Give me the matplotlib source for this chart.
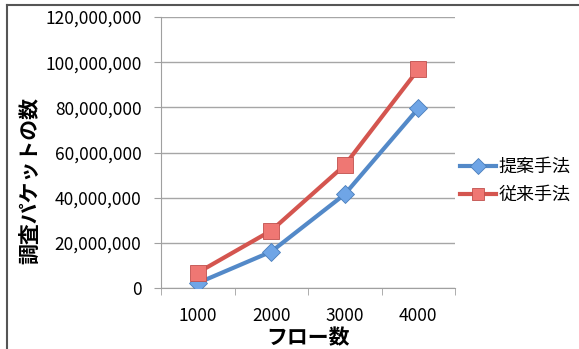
import matplotlib
matplotlib.use("Agg")
import matplotlib.pyplot as plt
from matplotlib.lines import Line2D
from matplotlib.ticker import FuncFormatter

plt.rcParams['font.family'] = ['Noto Sans CJK JP', 'DejaVu Sans']

flows = ['1000', '2000', '3000', '4000']
proposed = [2200000, 16100000, 41500000, 79500000]
conventional = [6800000, 25400000, 54400000, 96800000]
series_names = ['提案手法', '従来手法']

blue, blue_fill = '#5389C8', '#6FA5E6'
red, red_fill = '#D4554F', '#EF7773'

fig = plt.figure(figsize=(5.79, 3.49), dpi=100)
W, H = 579, 349
ax = fig.add_axes([161 / W, 1 - 288 / H, (455 - 161) / W, (288 - 17) / H])

x = [0, 1, 2, 3]
ax.plot(x, proposed, color=blue, lw=3.0, marker='D', ms=9,
        mfc=blue_fill, mec='#4A7EBB', mew=0.6, solid_capstyle='round', zorder=3)
ax.plot(x, conventional, color=red, lw=3.0, marker='s', ms=11,
        mfc=red_fill, mec='#C0504D', mew=0.6, solid_capstyle='round', zorder=3)

ax.set_xlim(-0.5, 3.5)
ax.set_ylim(0, 120000000)
ax.set_yticks(range(0, 120000001, 20000000))
ax.yaxis.set_major_formatter(FuncFormatter(lambda v, p: f'{int(v):,}'))
ax.set_xticks(x)
ax.set_xticklabels(flows)
ax.set_xticks([-0.5, 0.5, 1.5, 2.5, 3.5], minor=True)
ax.tick_params(axis='x', which='major', length=0, pad=14, labelsize=12.5)
ax.tick_params(axis='x', which='minor', length=5, color='#A0A0A0', direction='out')
ax.tick_params(axis='y', length=5, color='#A0A0A0', labelsize=12.5, pad=9)
ax.grid(axis='y', color='#A6A6A6', lw=1)
ax.set_axisbelow(True)
for s in ['top', 'right']:
    ax.spines[s].set_visible(False)
for s in ['left', 'bottom']:
    ax.spines[s].set_color('#A0A0A0')

fig.text(30 / W, 1 - 180 / H, '調査パケットの数', rotation=90, fontsize=15,
         fontweight='bold', ha='center', va='center')
ax.set_xlabel('フロー数', fontsize=15, fontweight='bold', labelpad=1)

handles = [
    Line2D([], [], color=blue, lw=3.0, marker='D', ms=8, mfc=blue_fill, mec='#4A7EBB', mew=0.6),
    Line2D([], [], color=red, lw=3.0, marker='s', ms=9, mfc=red_fill, mec='#C0504D', mew=0.6),
]
fig.legend(handles, series_names, loc='center left', bbox_to_anchor=(453 / W, 1 - 181 / H),
           frameon=False, fontsize=13, handlelength=2.0, handletextpad=0.1,
           labelspacing=0.55, borderaxespad=0)

# frame around the chart
fig.add_artist(Line2D([7 / W, 7 / W], [0, 1 - 5 / H], color='#555555', lw=1.5))
fig.add_artist(Line2D([7 / W, 1], [1 - 5 / H, 1 - 5 / H], color='#555555', lw=1.5))

fig.savefig('out.png', dpi=100)
